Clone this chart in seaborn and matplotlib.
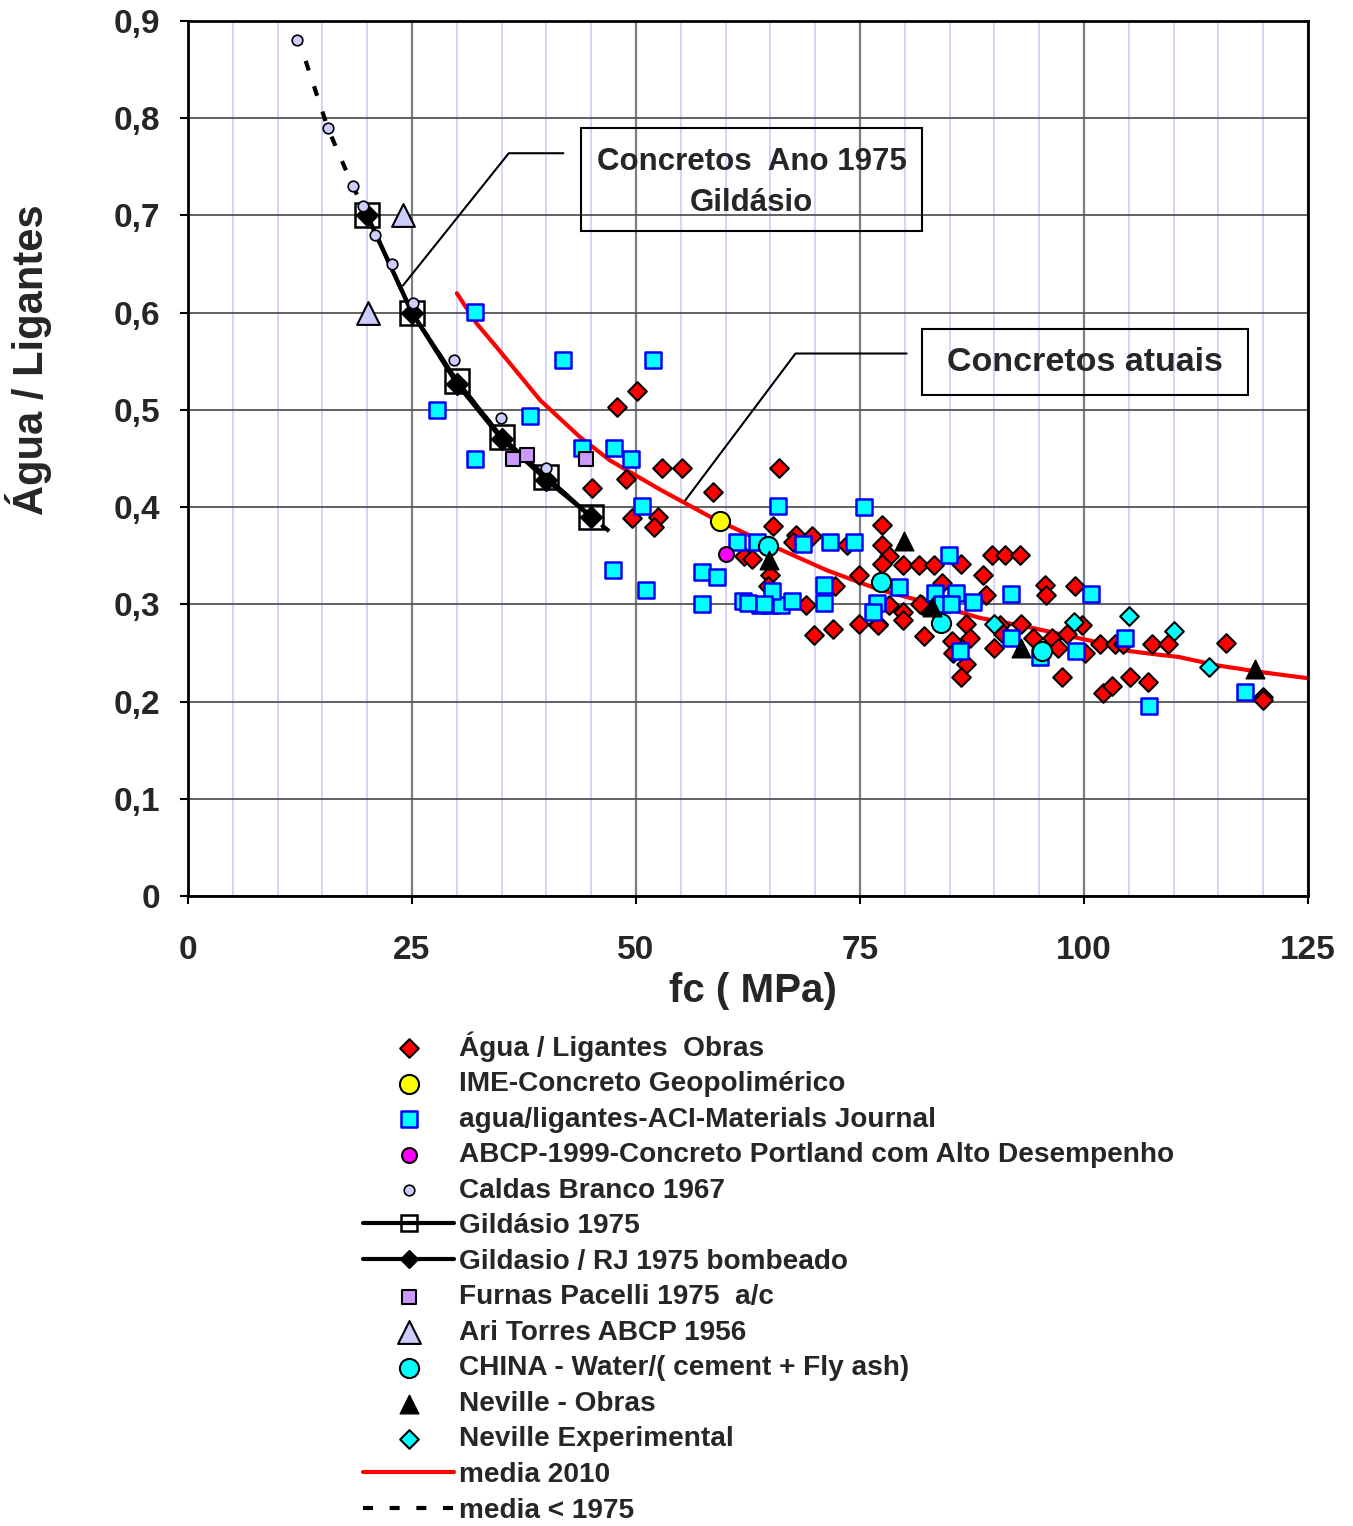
import numpy as np
import pandas as pd
import seaborn as sns
import matplotlib.pyplot as plt
from matplotlib.patches import Rectangle
from matplotlib.ticker import MultipleLocator, FuncFormatter

# Data: fc (MPa) vs agua/ligantes
obras_fc = [50.1, 47.9, 52.9, 55.1, 48.9, 45.1, 58.6, 66.0, 49.6, 52.5,
            52.0, 65.3, 67.9, 69.6, 67.5, 62.0, 63.0, 64.9, 64.7, 69.0,
            69.9, 72.0, 72.2, 73.5, 74.9, 74.9, 77.0, 77.5, 77.5, 78.2,
            77.5, 79.8, 81.6, 83.3, 78.2, 79.8, 79.8, 82.1, 81.9, 86.3,
            89.7, 91.2, 92.9, 88.7, 89.1, 84.2, 81.7, 77.0, 86.8, 87.3,
            85.3, 85.4, 86.8, 86.3, 89.9, 90.6, 93.0, 94.3, 96.4, 97.1,
            95.6, 95.8, 99.0, 98.1, 99.8, 100.1, 97.5, 101.8, 103.5, 104.4,
            107.6, 109.4, 115.9, 105.1, 107.1, 102.1, 103.1, 120.0, 120.0, 91.0]
obras_wl = [0.519, 0.503, 0.44, 0.44, 0.429, 0.42, 0.416, 0.44, 0.389, 0.39,
            0.38, 0.381, 0.371, 0.37, 0.364, 0.35, 0.347, 0.33, 0.319, 0.299,
            0.268, 0.275, 0.319, 0.361, 0.33, 0.28, 0.28, 0.382, 0.361, 0.35,
            0.342, 0.34, 0.34, 0.34, 0.299, 0.292, 0.284, 0.267, 0.299, 0.341,
            0.351, 0.351, 0.351, 0.33, 0.31, 0.322, 0.30, 0.279, 0.28, 0.265,
            0.262, 0.25, 0.239, 0.225, 0.255, 0.279, 0.28, 0.265, 0.265, 0.255,
            0.32, 0.31, 0.319, 0.27, 0.279, 0.25, 0.225, 0.259, 0.259, 0.259,
            0.259, 0.259, 0.26, 0.225, 0.22, 0.209, 0.216, 0.205, 0.202, 0.27]

ime_fc, ime_wl = [59.4], [0.386]
abcp_fc, abcp_wl = [60.0], [0.352]

aci_fc = [32.0, 41.9, 27.8, 38.2, 32.0, 51.9, 44.0, 47.5, 49.4, 50.7,
          47.4, 51.1, 57.4, 59.0, 57.4, 61.3, 63.5, 65.9, 61.9, 63.8,
          65.0, 66.2, 65.2, 75.4, 68.6, 71.7, 74.3, 67.4, 71.0, 71.0,
          76.9, 76.4, 79.3, 84.9, 83.4, 85.7, 87.6, 86.2, 84.1, 85.2,
          91.9, 100.8, 91.9, 95.1, 99.1, 104.6, 107.3, 118.0, 62.5, 64.3]
aci_wl = [0.601, 0.551, 0.50, 0.494, 0.45, 0.551, 0.461, 0.461, 0.45, 0.401,
          0.335, 0.315, 0.333, 0.328, 0.30, 0.364, 0.364, 0.401, 0.303, 0.299,
          0.299, 0.299, 0.314, 0.40, 0.362, 0.364, 0.364, 0.303, 0.32, 0.301,
          0.301, 0.292, 0.318, 0.351, 0.312, 0.312, 0.302, 0.252, 0.30, 0.30,
          0.311, 0.311, 0.265, 0.246, 0.252, 0.265, 0.195, 0.21, 0.301, 0.30]

caldas_fc = [12.2, 15.6, 18.4, 19.5, 20.9, 22.8, 25.1, 29.7, 34.9, 39.9]
caldas_wl = [0.88, 0.79, 0.73, 0.71, 0.68, 0.65, 0.61, 0.551, 0.492, 0.44]

gild_fc = [20, 25, 30, 35, 40, 45]
gild_wl = [0.70, 0.60, 0.53, 0.472, 0.431, 0.39]
gild_rj_wl = [0.70, 0.60, 0.527, 0.47, 0.428, 0.39]

furnas_fc = [36.3, 37.8, 44.4]
furnas_wl = [0.45, 0.454, 0.45]

ari_fc = [20.1, 24.0]
ari_wl = [0.60, 0.70]

china_fc = [64.7, 77.3, 84.0, 95.3]
china_wl = [0.36, 0.323, 0.281, 0.252]

nev_obras_fc = [64.8, 79.9, 83.0, 93.0, 119.1]
nev_obras_wl = [0.346, 0.365, 0.297, 0.255, 0.233]

nev_exp_fc = [90.0, 98.9, 105.0, 110.0, 114.0]
nev_exp_wl = [0.28, 0.282, 0.288, 0.273, 0.236]

media2010_fc = [30, 32.2, 34.4, 39.3, 43.75, 47.1, 52.7, 58.3, 63.8, 71.3, 77.2,
                82.4, 88.4, 93.6, 101, 105, 108.5, 110.5, 115, 120, 125]
media2010_wl = [0.62, 0.589, 0.565, 0.51, 0.472, 0.448, 0.418, 0.39, 0.366, 0.335, 0.315,
                0.302, 0.286, 0.277, 0.262, 0.252, 0.248, 0.246, 0.237, 0.23, 0.224]

media1975_fc = [12.2, 15.6, 18.4, 20, 25, 30, 35, 40, 45, 48]
media1975_wl = [0.885, 0.79, 0.73, 0.70, 0.60, 0.53, 0.472, 0.431, 0.39, 0.368]

sns.set_style("white")
plt.rcParams["font.family"] = ["Liberation Sans", "DejaVu Sans"]
plt.rcParams["font.weight"] = "bold"

fig = plt.figure(figsize=(13.53, 15.26), dpi=100)
ax = fig.add_axes([0.13895, 0.41284, 0.82779, 0.57339])

# trend lines
sns.lineplot(x=media2010_fc, y=media2010_wl, color="#FF0000", lw=3, sort=False,
             estimator=None, label="media 2010", ax=ax, zorder=2)
sns.lineplot(x=media1975_fc, y=media1975_wl, color="black", lw=3, sort=False,
             estimator=None, linestyle=(0, (2.4, 4.0)), label="media < 1975", ax=ax, zorder=2)
sns.lineplot(x=gild_fc, y=gild_wl, color="black", lw=3, sort=False, estimator=None,
             marker="s", markersize=17, markerfacecolor="none", markeredgecolor="black",
             markeredgewidth=1.8, label="Gildásio 1975", ax=ax, zorder=3)
sns.lineplot(x=gild_fc, y=gild_rj_wl, color="black", lw=3, sort=False, estimator=None,
             marker="D", markersize=11.5, markerfacecolor="black", markeredgecolor="black",
             markeredgewidth=1, label="Gildasio / RJ 1975 bombeado", ax=ax, zorder=3)

# scatter series
sns.scatterplot(x=obras_fc, y=obras_wl, marker="D", s=90, color="#FF0000",
                edgecolor="black", linewidth=1.5, label="Água / Ligantes  Obras", ax=ax, zorder=4)
sns.scatterplot(x=aci_fc, y=aci_wl, marker="s", s=130, color="#00FFFF",
                edgecolor="#0000FF", linewidth=1.8, label="agua/ligantes-ACI-Materials Journal", ax=ax, zorder=5)
sns.scatterplot(x=ime_fc, y=ime_wl, marker="o", s=190, color="#FFFF00",
                edgecolor="black", linewidth=1.5, label="IME-Concreto Geopolimérico", ax=ax, zorder=6)
sns.scatterplot(x=abcp_fc, y=abcp_wl, marker="o", s=115, color="#FF00FF",
                edgecolor="black", linewidth=1.5,
                label="ABCP-1999-Concreto Portland com Alto Desempenho", ax=ax, zorder=6)
sns.scatterplot(x=caldas_fc, y=caldas_wl, marker="o", s=58, color="#CCCCFF",
                edgecolor="black", linewidth=1.2, label="Caldas Branco 1967", ax=ax, zorder=6)
sns.scatterplot(x=furnas_fc, y=furnas_wl, marker="s", s=115, color="#CC99FF",
                edgecolor="black", linewidth=1.5, label="Furnas Pacelli 1975  a/c", ax=ax, zorder=6)
sns.scatterplot(x=ari_fc, y=ari_wl, marker="^", s=270, color="#CCCCFF",
                edgecolor="black", linewidth=1.5, label="Ari Torres ABCP 1956", ax=ax, zorder=6)
sns.scatterplot(x=china_fc, y=china_wl, marker="o", s=190, color="#00FFFF",
                edgecolor="black", linewidth=1.5, label="CHINA - Water/( cement + Fly ash)", ax=ax, zorder=7)
sns.scatterplot(x=nev_obras_fc, y=nev_obras_wl, marker="^", s=180, color="black",
                edgecolor="black", linewidth=1, label="Neville - Obras", ax=ax, zorder=7)
sns.scatterplot(x=nev_exp_fc, y=nev_exp_wl, marker="D", s=90, color="#00FFFF",
                edgecolor="black", linewidth=1.5, label="Neville Experimental", ax=ax, zorder=7)

# axes, ticks and grid
ax.set_xlim(0, 125)
ax.set_ylim(0, 0.9)
ax.xaxis.set_major_locator(MultipleLocator(25))
ax.xaxis.set_minor_locator(MultipleLocator(5))
ax.yaxis.set_major_locator(MultipleLocator(0.1))
ax.yaxis.set_major_formatter(FuncFormatter(lambda v, p: "0" if abs(v) < 1e-9 else f"{v:.1f}".replace(".", ",")))
ax.set_axisbelow(True)
ax.grid(which="minor", axis="x", color="#CCCCFF", lw=1.2)
ax.grid(which="major", axis="x", color="#7F7F7F", lw=1.6)
ax.grid(which="major", axis="y", color="#555555", lw=1.3)
ax.tick_params(which="major", direction="out", length=6, width=1.5, color="black",
               labelsize=24, bottom=True, left=True)
ax.tick_params(which="minor", length=0)
ax.tick_params(axis="x", pad=22)
ax.tick_params(axis="y", pad=14)
for sp in ax.spines.values():
    sp.set_color("black")
    sp.set_linewidth(2)

ax.set_xlabel("fc ( MPa)", fontsize=29, fontweight="bold")
ax.set_ylabel("Água / Ligantes", fontsize=30, fontweight="bold")
ax.xaxis.set_label_coords(0.504, -0.087)
ax.yaxis.set_label_coords(-0.121, 0.613)

# annotation boxes and leader lines
ax.add_patch(Rectangle((43.86, 0.684), 38.06, 0.106, fill=False, ec="black", lw=1.5, zorder=8))
ax.text(62.9, 0.734, "Concretos  Ano 1975\nGildásio", ha="center", va="center",
        fontsize=22.5, fontweight="bold", linespacing=1.5, zorder=9)
ax.plot([41.9, 35.8, 24.0], [0.764, 0.764, 0.628], color="black", lw=1.5, zorder=8)

ax.add_patch(Rectangle((81.92, 0.515), 36.38, 0.068, fill=False, ec="black", lw=1.5, zorder=8))
ax.text(100.1, 0.549, "Concretos atuais", ha="center", va="center",
        fontsize=24.5, fontweight="bold", zorder=9)
ax.plot([80.2, 67.8, 55.5], [0.558, 0.558, 0.407], color="black", lw=1.5, zorder=8)

# legend in the original order
if ax.get_legend() is not None:
    ax.get_legend().remove()
handles, labels = ax.get_legend_handles_labels()
lookup = dict(zip(labels, handles))
order = ["Água / Ligantes  Obras", "IME-Concreto Geopolimérico",
         "agua/ligantes-ACI-Materials Journal",
         "ABCP-1999-Concreto Portland com Alto Desempenho", "Caldas Branco 1967",
         "Gildásio 1975", "Gildasio / RJ 1975 bombeado", "Furnas Pacelli 1975  a/c",
         "Ari Torres ABCP 1956", "CHINA - Water/( cement + Fly ash)", "Neville - Obras",
         "Neville Experimental", "media 2010", "media < 1975"]
leg = fig.legend([lookup[k] for k in order], order, loc="upper left",
                 bbox_to_anchor=(363 / 1353, 1 - 1031 / 1526), frameon=False,
                 fontsize=20.2, handlelength=3.25, handletextpad=0.18, labelspacing=0.34,
                 borderpad=0, borderaxespad=0)
# smaller markers on the line entries of the legend
leg.legend_handles[5].set_markersize(11.5)
leg.legend_handles[6].set_markersize(9)

fig.savefig("out.png", dpi=100, facecolor="white")
